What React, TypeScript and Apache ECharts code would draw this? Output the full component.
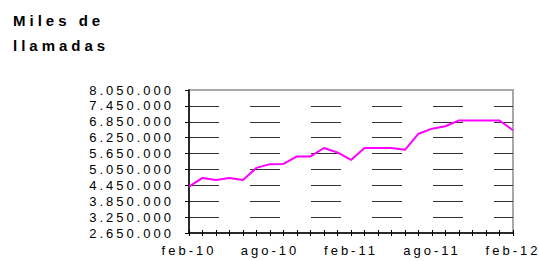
import React, { useEffect, useRef } from "react";
import * as echarts from "echarts";

const titleLines = ["Miles de", "llamadas"];
const months = [
  "feb-10", "mar-10", "abr-10", "may-10", "jun-10", "jul-10", "ago-10", "sep-10", "oct-10", "nov-10", "dic-10", "ene-11",
  "feb-11", "mar-11", "abr-11", "may-11", "jun-11", "jul-11", "ago-11", "sep-11", "oct-11", "nov-11", "dic-11", "ene-12",
  "feb-12",
];
const calls = [
  4400000, 4730000, 4650000, 4730000, 4650000, 5110000, 5250000, 5260000, 5540000, 5540000, 5860000, 5690000,
  5410000, 5860000, 5860000, 5860000, 5790000, 6400000, 6590000, 6680000, 6900000, 6900000, 6900000, 6900000,
  6530000,
];
const yMin = 2650000;
const yMax = 8050000;
const yStep = 600000;

const fmt = (v: number) => {
  const s = Math.round(v).toString();
  return s.replace(/\B(?=(\d{3})+(?!\d))/g, ".");
};

export default function App() {
  const ref = useRef<HTMLDivElement>(null);
  useEffect(() => {
    if (!ref.current) return;
    const chart = echarts.init(ref.current, undefined, { renderer: "svg" });
    const font = "'Liberation Sans', Arial, sans-serif";
    chart.setOption({
      animation: false,
      title: {
        text: titleLines.join("\n"),
        left: 13,
        top: 8,
        padding: 0,
        textStyle: { fontFamily: font, fontSize: 15, fontWeight: "bold", color: "#000", lineHeight: 25 },
      },
      grid: {
        left: 189,
        right: 26,
        top: 90,
        bottom: 28,
        containLabel: false,
        show: true,
        borderColor: "#a8a8a8",
        borderWidth: 2,
        backgroundColor: "transparent",
      },
      xAxis: [
        {
          type: "category",
          data: months,
          boundaryGap: false,
          axisLine: { lineStyle: { color: "#000", width: 1.5 } },
          axisTick: { show: true, interval: 0, length: 3, lineStyle: { color: "#000" } },
          axisLabel: { interval: 5, margin: 11, fontFamily: font, fontSize: 13, color: "#000" },
          splitLine: { show: false },
        },
        {
          type: "category",
          data: months,
          boundaryGap: false,
          position: "bottom",
          axisLine: { show: false },
          axisTick: { show: true, inside: true, interval: 0, length: 3, lineStyle: { color: "#000" } },
          axisLabel: { show: false },
          splitLine: { show: false },
        },
      ],
      yAxis: {
        type: "value",
        min: yMin,
        max: yMax,
        interval: yStep,
        axisLine: { show: true, lineStyle: { color: "#000", width: 1.5 } },
        axisTick: { show: true, length: 4, lineStyle: { color: "#000" } },
        axisLabel: { margin: 15, fontFamily: font, fontSize: 13, color: "#000", formatter: (v: number) => fmt(v) },
        splitLine: {
          show: true,
          showMinLine: false,
          showMaxLine: false,
          lineStyle: { color: "#333", width: 1, type: [30, 31] },
        },
      },
      series: [
        {
          type: "line",
          data: calls,
          xAxisIndex: 0,
          symbol: "none",
          lineStyle: { color: "#ff00ff", width: 2 },
          itemStyle: { color: "#ff00ff" },
        },
      ],
    });
    return () => chart.dispose();
  }, []);
  return (
    <>
      <style>{`
        .chartbox text { letter-spacing: 3px; }
        .chartbox text[style*="bold"], .chartbox text[font-weight="bold"] { letter-spacing: 4px; }
      `}</style>
      <div
        className="chartbox"
        ref={ref}
        style={{ position: "fixed", left: 0, top: 0, width: 539, height: 261, background: "#fff" }}
      />
    </>
  );
}
